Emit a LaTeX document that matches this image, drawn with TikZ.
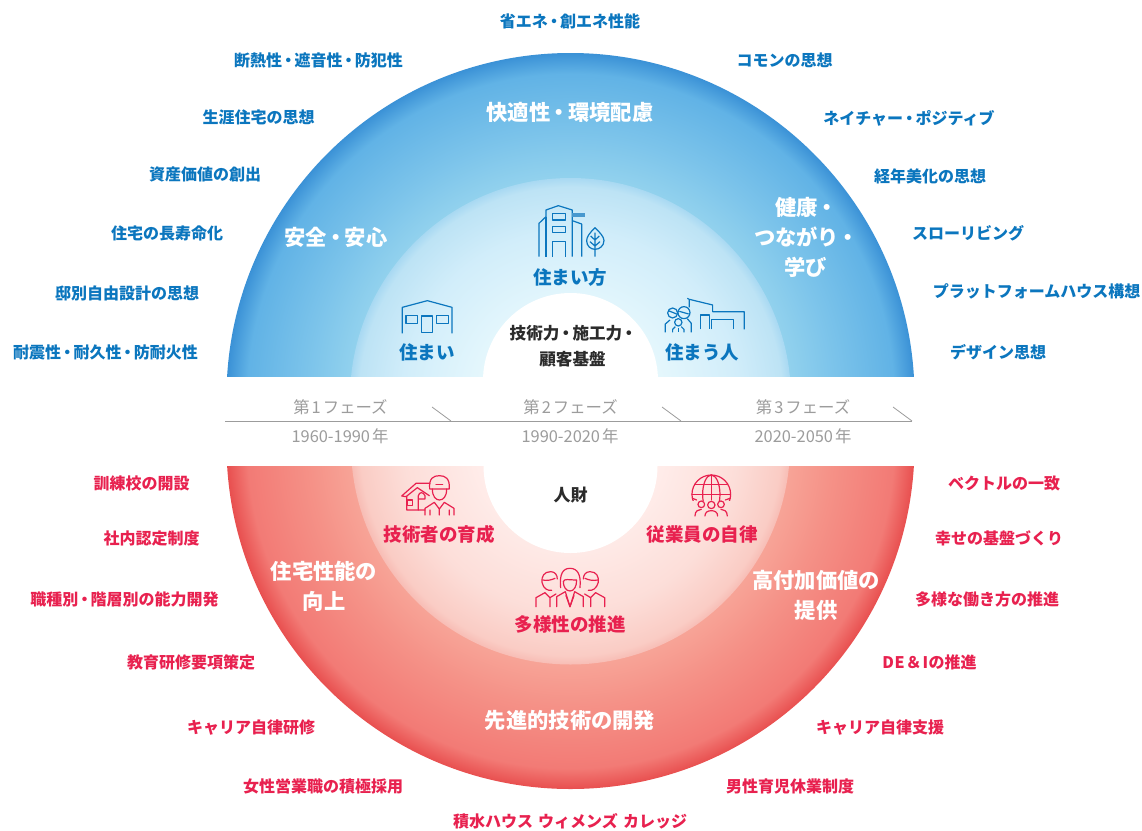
\documentclass[tikz,border=0pt]{standalone}
\usepackage{fontspec}
\newfontfamily\jp{Noto Sans CJK JP}
\newcommand{\dt}{\kern-1.8pt・\kern-1.8pt}
\definecolor{tblue}{HTML}{0B76BE}
\definecolor{tred}{HTML}{E8214F}
\definecolor{tgray}{HTML}{9C9C9C}
\definecolor{tdark}{HTML}{2B2B2B}
\pgfdeclareradialshading{blueouter}{\pgfpoint{0bp}{0bp}}{rgb(0bp)=(0.57,0.82,0.93); rgb(16bp)=(0.57,0.82,0.93); rgb(19bp)=(0.49,0.77,0.92); rgb(23.5bp)=(0.38,0.70,0.90); rgb(25bp)=(0.23,0.57,0.84); rgb(50bp)=(0.23,0.57,0.84)}
\pgfdeclareradialshading{bluemid}{\pgfpoint{0bp}{0bp}}{rgb(0bp)=(0.93,0.98,1.0); rgb(10bp)=(0.90,0.97,0.99); rgb(19bp)=(0.82,0.93,0.98); rgb(24bp)=(0.74,0.89,0.96); rgb(25bp)=(0.66,0.85,0.95); rgb(50bp)=(0.66,0.85,0.95)}
\pgfdeclareradialshading{redouter}{\pgfpoint{0bp}{0bp}}{rgb(0bp)=(0.97,0.65,0.60); rgb(16bp)=(0.97,0.64,0.59); rgb(19bp)=(0.96,0.57,0.53); rgb(23.5bp)=(0.95,0.48,0.46); rgb(25bp)=(0.91,0.31,0.31); rgb(50bp)=(0.91,0.31,0.31)}
\pgfdeclareradialshading{redmid}{\pgfpoint{0bp}{0bp}}{rgb(0bp)=(1.0,0.95,0.94); rgb(10bp)=(1.0,0.93,0.92); rgb(19bp)=(0.99,0.87,0.85); rgb(24bp)=(0.98,0.80,0.77); rgb(25bp)=(0.97,0.74,0.71); rgb(50bp)=(0.97,0.74,0.71)}
\tikzset{
 lb/.style={font=\jp\bfseries\fontsize{16}{18}\selectfont,inner sep=0pt,align=center},
 bluelabel/.style={lb,text=tblue},
 redlabel/.style={lb,text=tred},
 whitelabel/.style={lb,text=white,font=\jp\bfseries\fontsize{21.3}{30}\selectfont},
 bluehead/.style={lb,text=tblue,font=\jp\bfseries\fontsize{18.5}{22}\selectfont},
 redhead/.style={lb,text=tred,font=\jp\bfseries\fontsize{18.5}{22}\selectfont},
 corelabel/.style={lb,text=tdark,font=\jp\bfseries\fontsize{16.6}{26}\selectfont},
 phaselabel/.style={inner sep=0pt,text=tgray,font=\jp\fontsize{16.4}{18}\selectfont},
 iconb/.style={draw=tblue,line width=1.2pt,line join=round,fill=none},
 iconr/.style={draw=tred,line width=1.2pt,line join=round,line cap=round,fill=none},
 zoomA/.style={shift={(340,190)},x=0.3333pt,y=-0.3333pt},
 zoomB/.style={shift={(380,465)},x=0.3333pt,y=-0.3333pt}
}
\begin{document}
\begin{tikzpicture}[x=1pt,y=-1pt]
\useasboundingbox (0,0) rectangle (1142,830);
\fill[white] (0,0) rectangle (1142,830);
% upper half
\begin{scope}
\clip (0,0) rectangle (1142,376);
\shade[shading=blueouter] (570.5,397) circle (344pt);
\shade[shading=bluemid] (570.5,398.5) circle (220.5pt);
\fill[white] (570.5,380.5) circle (87.5pt);
\end{scope}
% lower half
\begin{scope}
\clip (0,466) rectangle (1142,830);
\shade[shading=redouter] (570.5,445) circle (344pt);
\shade[shading=redmid] (570.5,445) circle (219.5pt);
\fill[white] (570.5,466) circle (87pt);
\end{scope}
% timeline
\draw[tgray,line width=1pt] (225,421) -- (912,421);
\draw[tgray,line width=0.8pt] (432,407) -- (451,421);
\draw[tgray,line width=0.8pt] (662,407) -- (681,421);
\draw[tgray,line width=0.8pt] (893,407) -- (912,421);
\node[phaselabel] (p1) at (340.5,407) {第\kern2pt 1\kern2pt フェーズ};
\node[phaselabel] (p2) at (570.5,407) {第\kern2pt 2\kern2pt フェーズ};
\node[phaselabel] (p3) at (803,407) {第\kern2pt 3\kern2pt フェーズ};
\node[phaselabel] (y1) at (340,436) {1960-1990\kern2pt 年};
\node[phaselabel] (y2) at (570,436) {1990-2020\kern2pt 年};
\node[phaselabel] (y3) at (803,436) {2020-2050\kern2pt 年};
% blue outer labels
\node[bluelabel] (a1) at (570,21) {省エネ\dt 創エネ性能};
\node[bluelabel] (a2) at (318.5,60) {断熱性\dt 遮音性\dt 防犯性};
\node[bluelabel] (a3) at (258.5,117) {生涯住宅の思想};
\node[bluelabel] (a4) at (205,174) {資産価値の創出};
\node[bluelabel] (a5) at (167,233) {住宅の長寿命化};
\node[bluelabel] (a6) at (127,293) {邸別自由設計の思想};
\node[bluelabel] (a7) at (105.5,352) {耐震性\dt 耐久性\dt 防耐火性};
\node[bluelabel] (b1) at (784.5,60) {コモンの思想};
\node[bluelabel] (b2) at (909,118) {ネイチャー\dt ポジティブ};
\node[bluelabel] (b3) at (930,176) {経年美化の思想};
\node[bluelabel] (b4) at (968,233) {スローリビング};
\node[bluelabel] (b5) at (1036.5,291) {プラットフォームハウス構想};
\node[bluelabel] (b6) at (998,352) {デザイン思想};
% red outer labels
\node[redlabel] (c1) at (141.5,483) {訓練校の開設};
\node[redlabel] (c2) at (151.5,538) {社内認定制度};
\node[redlabel] (c3) at (124.5,599) {職種別\dt 階層別の能力開発};
\node[redlabel] (c4) at (191,662) {教育研修要項策定};
\node[redlabel] (c5) at (251,728) {キャリア自律研修};
\node[redlabel] (c6) at (323,786) {女性営業職の積極採用};
\node[redlabel] (c7) at (570,821) {積水ハウス\kern1.5pt\ ウィメンズ\kern1.5pt\ カレッジ};
\node[redlabel] (d1) at (1004,483) {ベクトルの一致};
\node[redlabel] (d2) at (999,538) {幸せの基盤づくり};
\node[redlabel] (d3) at (987,599) {多様な働き方の推進};
\node[redlabel] (d4) at (929.5,662) {D\kern0.5pt E\kern1pt ＆\kern1pt I\kern0.5pt の推進};
\node[redlabel] (d5) at (880,728) {キャリア自律支援};
\node[redlabel] (d6) at (790,786) {男性育児休業制度};
% ring labels
\node[whitelabel] (w1) at (570,112) {快適性\dt 環境配慮};
\node[whitelabel] (w2) at (336,237) {安全\dt 安心};
\node[whitelabel] (w3) at (805.5,237) {健康\dt\\つながり\dt\\学び};
\node[whitelabel] (w4) at (324,586) {住宅性能の\\向上};
\node[whitelabel] (w5) at (570,720) {先進的技術の開発};
\node[whitelabel] (w6) at (816,595) {高付加価値の\\提供};
% heads
\node[bluehead] (h1) at (570,277) {住まい方};
\node[bluehead] (h2) at (427,352) {住まい};
\node[bluehead] (h3) at (702,352) {住まう人};
\node[corelabel] (core) at (572.5,346) {技術力\dt 施工力\dt\\顧客基盤};
\node[redhead] (r1) at (439,534) {技術者の育成};
\node[redhead] (r2) at (702,534) {従業員の自律};
\node[redhead] (r3) at (570,624) {多様性の推進};
\node[lb,text=tdark,font=\jp\bfseries\fontsize{17}{18}\selectfont] (core2) at (570.5,495) {人財};
% blue icons
\begin{scope}[zoomA]
 \draw[iconb] (597,200) -- (597,100) -- (618,80) -- (618,60) -- (655,47) -- (697,60) -- (697,200);
 \draw[iconb] (618,80) -- (618,200);
 \draw[iconb] (697,92) -- (725,102) -- (725,200);
 \fill[tblue!75] (697,70) rectangle (735,80);
 \draw[iconb] (638,70) rectangle (677,90);
 \draw[iconb] (638,110) rectangle (677,128);
 \draw[iconb] (638,200) -- (638,155) -- (677,155) -- (677,200);
 \draw[iconb] (765,113) .. controls (750,128) and (740,140) .. (740,152) .. controls (740,168) and (752,178) .. (765,178) .. controls (778,178) and (792,168) .. (792,152) .. controls (792,140) and (780,128) .. (765,113) -- cycle;
 \draw[iconb] (765,128) -- (765,200) (765,150) -- (752,138) (765,150) -- (778,138) (765,168) -- (750,155) (765,168) -- (780,155);
 % house
 \draw[iconb] (187,430) -- (187,352) -- (262,332) -- (336,352) -- (336,430);
 \draw[iconb] (198,377) rectangle (233,400);
 \draw[iconb] (290,377) rectangle (325,400);
 \draw[iconb] (245,428) -- (245,378) -- (278,378) -- (278,428) -- cycle;
 % family
 \draw[iconb] (1048,352) -- (1048,328) -- (1042,325) (1048,328) -- (1118,345) -- (1118,365) -- (1213,365) -- (1213,418);
 \draw[iconb] (1082,418) -- (1082,375) -- (1108,375) -- (1108,418);
 \draw[iconb] (1115,418) -- (1115,388) -- (1180,388) -- (1180,418);
 \draw[iconb] (998,369) circle (15);
 \draw[iconb] (1032,368) circle (18);
 \draw[iconb] (1015,397) circle (11);
 \draw[iconb] (985,362) -- (1010,372) (1018,364) -- (1046,372);
 \draw[iconb] (976,427) -- (976,402) -- (990,390) (1054,427) -- (1054,400) -- (1042,386);
 \draw[iconb] (998,427) -- (998,418) -- (1006,410) (1032,427) -- (1032,418) -- (1024,410);
 \draw[iconb] (1015,415) -- (1015,427);
\end{scope}
% red icons
\begin{scope}[zoomB]
 % engineer
 \draw[iconr] (65,93) -- (108,55) -- (150,55) (78,95) -- (112,68) -- (148,92) (65,93) -- (78,95) (80,95) -- (80,135) -- (135,135);
 \draw[iconr] (83,105) rectangle (98,122);
 \draw[iconr] (115,135) -- (115,92) .. controls (118,80) and (130,80) .. (135,92) -- (135,102) -- (115,102);
 \draw[iconr] (149,72) .. controls (146,40) and (160,32) .. (178,32) .. controls (196,32) and (210,40) .. (208,72) -- cycle;
 \draw[iconr] (168,58) -- (188,58);
 \draw[iconr] (157,72) .. controls (157,95) and (168,105) .. (178,105) .. controls (190,105) and (200,95) .. (200,72);
 \draw[iconr] (135,150) -- (135,130) -- (163,112) -- (178,132) -- (193,112) -- (222,130) -- (222,150) (178,132) -- (178,150) (150,150) -- (150,135) (208,150) -- (208,135);
 % globe
 \begin{scope}
  \clip (920,20) rectangle (1060,105);
  \draw[iconr] (994,88) circle (58);
  \draw[iconr] (994,88) ellipse (26 and 58);
  \draw[iconr] (936,88) -- (1052,88) (994,30) -- (994,105) (946,58) -- (1042,58);
 \end{scope}
 \draw[iconr] (938,100) -- (950,105) (1050,100) -- (1036,105);
 \draw[iconr] (964,118) circle (10);
 \draw[iconr] (994,120) circle (11);
 \draw[iconr] (1023,118) circle (10);
 \draw[iconr] (945,153) .. controls (945,138) and (955,133) .. (964,133) (1042,153) .. controls (1042,138) and (1032,133) .. (1023,133);
 \draw[iconr] (975,153) .. controls (975,142) and (983,137) .. (994,137) .. controls (1005,137) and (1013,142) .. (1013,153);
 % diversity
 \draw[iconr] (570,310) .. controls (548,310) and (538,328) .. (542,368) (570,310) .. controls (592,310) and (604,328) .. (600,368);
 \draw[iconr] (550,350) .. controls (552,340) and (566,345) .. (590,345) .. controls (590,365) and (582,378) .. (570,378) .. controls (558,378) and (550,365) .. (550,350);
 \draw[iconr] (530,425) -- (530,395) -- (556,380) -- (570,425) -- (584,380) -- (610,395) -- (610,425);
 \draw[iconr] (558,392) -- (570,425) -- (582,392);
 \draw[iconr] (512,320) .. controls (492,320) and (484,335) .. (486,352) .. controls (490,372) and (505,378) .. (515,376) (512,320) .. controls (525,320) and (532,330) .. (532,342);
 \draw[iconr] (488,345) .. controls (500,348) and (515,345) .. (525,340);
 \draw[iconr] (468,425) -- (468,398) -- (495,383) -- (510,398) -- (528,387) (510,398) -- (510,425);
 \draw[iconr] (630,320) .. controls (650,320) and (657,335) .. (655,352) .. controls (650,372) and (636,378) .. (625,376) (630,320) .. controls (617,320) and (610,330) .. (610,342);
 \draw[iconr] (653,345) .. controls (640,348) and (625,345) .. (615,340);
 \draw[iconr] (674,425) -- (674,398) -- (647,383) -- (632,398) -- (614,387) (632,398) -- (632,425);
\end{scope}
\end{tikzpicture}
\end{document}
